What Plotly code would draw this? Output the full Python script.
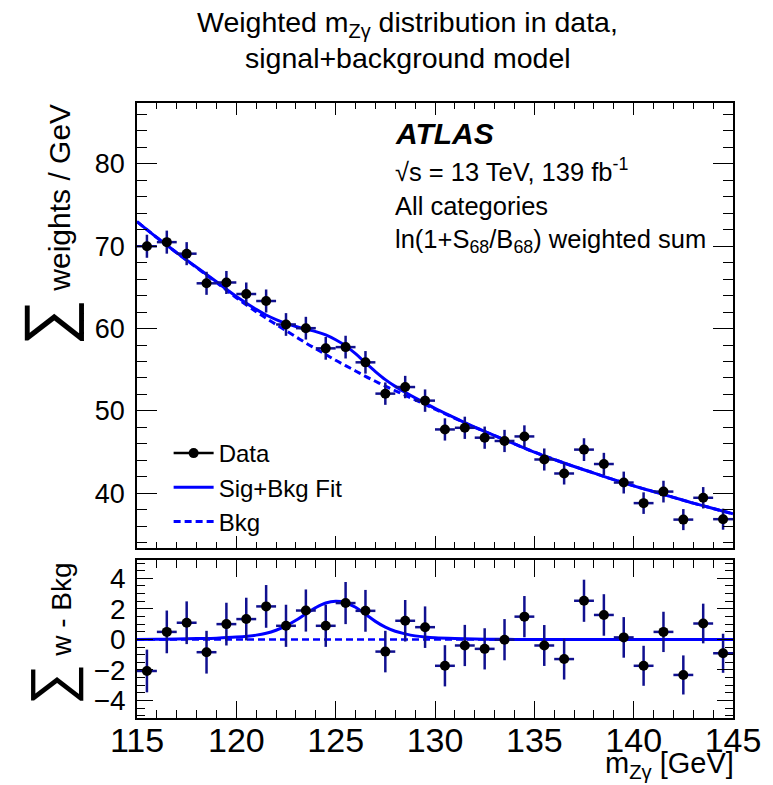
import plotly.graph_objects as go

# ---------------- data ----------------
bin_centres = [115.5, 116.5, 117.5, 118.5, 119.5, 120.5, 121.5, 122.5, 123.5, 124.5,
               125.5, 126.5, 127.5, 128.5, 129.5, 130.5, 131.5, 132.5, 133.5, 134.5,
               135.5, 136.5, 137.5, 138.5, 139.5, 140.5, 141.5, 142.5, 143.5, 144.5]
data_w = [70.0, 70.5, 69.1, 65.5, 65.6, 64.2, 63.35, 60.5, 60.05, 57.6,
          57.75, 55.9, 52.1, 52.9, 51.25, 47.75, 47.95, 46.75, 46.35, 46.9,
          44.1, 42.4, 45.3, 43.55, 41.3, 38.8, 40.2, 36.8, 39.45, 36.85]
data_err = [1.4, 1.4, 1.4, 1.4, 1.4, 1.4, 1.4, 1.38, 1.38, 1.38,
            1.38, 1.37, 1.36, 1.36, 1.36, 1.35, 1.35, 1.35, 1.35, 1.35,
            1.34, 1.34, 1.38, 1.36, 1.33, 1.31, 1.32, 1.28, 1.3, 1.28]
resid = [-2.07, 0.49, 1.09, -0.84, 1.0, 1.33, 2.16, 0.89, 1.89, 0.89,
         2.38, 1.87, -0.8, 1.22, 0.8, -1.73, -0.4, -0.62, -0.02, 1.49,
         -0.4, -1.29, 2.53, 1.6, 0.13, -1.73, 0.49, -2.33, 1.04, -0.91]
bin_half_width = 0.5

curve_m = [115, 116, 117, 118, 119, 120, 121, 121.5, 122, 122.5, 123, 123.5, 124, 124.5,
           125, 125.5, 126, 126.5, 127, 127.5, 128, 128.5, 129, 129.5, 130, 131, 132,
           133, 134, 135, 136, 137, 138, 139, 140, 141, 142, 143, 144, 145]
bkg_curve = [73.0, 71.05, 69.2, 67.4, 65.6, 63.75, 62.05, 61.25, 60.5, 59.75, 59.0, 58.25,
             57.55, 56.85, 56.15, 55.5, 54.85, 54.2, 53.6, 53.0, 52.45, 51.9, 51.35, 50.8,
             50.2, 49.1, 48.0, 47.0, 46.0, 45.0, 44.1, 43.25, 42.45, 41.65, 40.9, 40.2,
             39.5, 38.8, 38.15, 37.5]
sig_curve = [0.0, 0.01, 0.02, 0.05, 0.08, 0.15, 0.28, 0.4, 0.6, 0.88, 1.25, 1.68, 2.08, 2.38,
             2.49, 2.4, 2.1, 1.65, 1.18, 0.8, 0.53, 0.36, 0.23, 0.15, 0.1, 0.05, 0.02,
             0.01, 0.0, 0.0, 0.0, 0.0, 0.0, 0.0, 0.0, 0.0, 0.0, 0.0, 0.0, 0.0]
sb_curve = [b + s for b, s in zip(bkg_curve, sig_curve)]
zero_m = [115, 145]
zero_v = [0, 0]

FONT = "Liberation Sans, Arial, Helvetica, sans-serif"
BLUE = "#0000ff"
ERRC = "#10108f"

fig = go.Figure()

# main panel curves
fig.add_trace(go.Scatter(x=curve_m, y=bkg_curve, mode="lines", line=dict(color=BLUE, width=3, dash="7px,4px", shape="spline"),
                         xaxis="x", yaxis="y", showlegend=False))
fig.add_trace(go.Scatter(x=curve_m, y=sb_curve, mode="lines", line=dict(color=BLUE, width=3, shape="spline"),
                         xaxis="x", yaxis="y", showlegend=False))
# main panel data
fig.add_trace(go.Scatter(x=bin_centres, y=data_w, mode="markers",
                         marker=dict(color="black", size=10),
                         error_y=dict(type="data", array=data_err, color=ERRC, thickness=2.5, width=0),
                         error_x=dict(type="constant", value=bin_half_width, color=ERRC, thickness=2.5, width=0),
                         xaxis="x", yaxis="y", showlegend=False))

# residual panel
fig.add_trace(go.Scatter(x=zero_m, y=zero_v, mode="lines", line=dict(color=BLUE, width=2.5, dash="7px,4px"),
                         xaxis="x2", yaxis="y2", showlegend=False))
fig.add_trace(go.Scatter(x=curve_m, y=sig_curve, mode="lines", line=dict(color=BLUE, width=3, shape="spline"),
                         xaxis="x2", yaxis="y2", showlegend=False))
fig.add_trace(go.Scatter(x=bin_centres, y=resid, mode="markers",
                         marker=dict(color="black", size=10),
                         error_y=dict(type="data", array=data_err, color=ERRC, thickness=2.5, width=0),
                         error_x=dict(type="constant", value=bin_half_width, color=ERRC, thickness=2.5, width=0),
                         xaxis="x2", yaxis="y2", showlegend=False))

# legend entries
fig.add_trace(go.Scatter(x=[None], y=[None], mode="lines+markers", name="Data",
                         line=dict(color="black", width=2.5), marker=dict(color="black", size=10),
                         xaxis="x", yaxis="y"))
fig.add_trace(go.Scatter(x=[None], y=[None], mode="lines", name="Sig+Bkg Fit",
                         line=dict(color=BLUE, width=3), xaxis="x", yaxis="y"))
fig.add_trace(go.Scatter(x=[None], y=[None], mode="lines", name="Bkg",
                         line=dict(color=BLUE, width=3, dash="7px,4px"), xaxis="x", yaxis="y"))

axis_common = dict(showline=True, linecolor="black", linewidth=1.5, mirror="allticks",
                   ticks="inside", tickcolor="black", tickwidth=1.3, showgrid=False, zeroline=False)

L, R, T, B = 137, 33, 103, 67
W, H = 773, 785
ph = H - T - B


def py(p):
    return (H - B - p) / ph


def px(p):
    return (p - L) / (W - L - R)


fig.update_layout(
    width=W, height=H,
    margin=dict(l=L, r=R, t=T, b=B),
    paper_bgcolor="white", plot_bgcolor="white",
    font=dict(family=FONT, color="black"),
    xaxis=dict(domain=[0, 1], range=[115, 145], anchor="y", dtick=5, tick0=115, ticklen=12,
               showticklabels=False, minor=dict(dtick=1, ticklen=6, ticks="inside", tickcolor="black"),
               **axis_common),
    yaxis=dict(domain=[py(548), 1], range=[33.35, 87.4], anchor="x", dtick=10, tick0=0, ticklen=20,
               tickfont=dict(size=27), ticklabelstandoff=5,
               minor=dict(dtick=2, ticklen=10, ticks="inside", tickcolor="black"),
               **axis_common),
    xaxis2=dict(domain=[0, 1], range=[115, 145], anchor="y2", dtick=5, tick0=115, ticklen=17,
                tickfont=dict(size=34), ticklabelstandoff=-9,
                minor=dict(dtick=1, ticklen=8, ticks="inside", tickcolor="black"),
                **axis_common),
    yaxis2=dict(domain=[0, py(560)], range=[-5.15, 5.2], anchor="x2", dtick=2, tick0=0, ticklen=16,
                tickfont=dict(size=28), ticklabelstandoff=4,
                minor=dict(dtick=0.5, ticklen=8, ticks="inside", tickcolor="black"),
                **axis_common),
    legend=dict(x=px(169), y=py(431), xanchor="left", yanchor="top", bgcolor="rgba(0,0,0,0)",
                font=dict(size=24, family=FONT), tracegroupgap=0, itemwidth=40),
    showlegend=True,
)

ann = [
    dict(text="<b><i>ATLAS</i></b>", x=px(396), y=py(133), font=dict(size=30)),
    dict(text="√s = 13 TeV, 139 fb<sup>-1</sup>", x=px(396), y=py(170), font=dict(size=25.5)),
    dict(text="All categories", x=px(396), y=py(206), font=dict(size=25.5)),
    dict(text="ln(1+S<sub>68</sub>/B<sub>68</sub>) weighted sum", x=px(396), y=py(241), font=dict(size=25.5)),
]
annotations = []
for a in ann:
    annotations.append(dict(xref="paper", yref="paper", xanchor="left", yanchor="middle",
                            showarrow=False, **a))
# title lines
annotations.append(dict(xref="paper", yref="paper", x=px(411), y=py(24), xanchor="center", yanchor="middle",
                        showarrow=False, text="Weighted m<sub>Zγ</sub> distribution in data,",
                        font=dict(size=28.5)))
annotations.append(dict(xref="paper", yref="paper", x=px(411), y=py(58), xanchor="center", yanchor="middle",
                        showarrow=False, text="signal+background model", font=dict(size=28.5)))
annotations.append(dict(xref="paper", yref="paper", x=px(743), y=py(765), xanchor="right", yanchor="middle",
                        showarrow=False, text="m<sub>Zγ</sub> [GeV]", font=dict(size=29)))
annotations.append(dict(xref="paper", yref="paper", x=px(46), y=py(225), xanchor="center", yanchor="middle",
                        showarrow=False, textangle=-90,
                        text="<span style='font-size:66px'>∑</span> weights / GeV", font=dict(size=30)))
annotations.append(dict(xref="paper", yref="paper", x=px(50), y=py(634), xanchor="center", yanchor="middle",
                        showarrow=False, textangle=-90,
                        text="<span style='font-size:58px'>∑</span> w - Bkg", font=dict(size=28)))
fig.update_layout(annotations=annotations)

fig.write_html("out.html")
